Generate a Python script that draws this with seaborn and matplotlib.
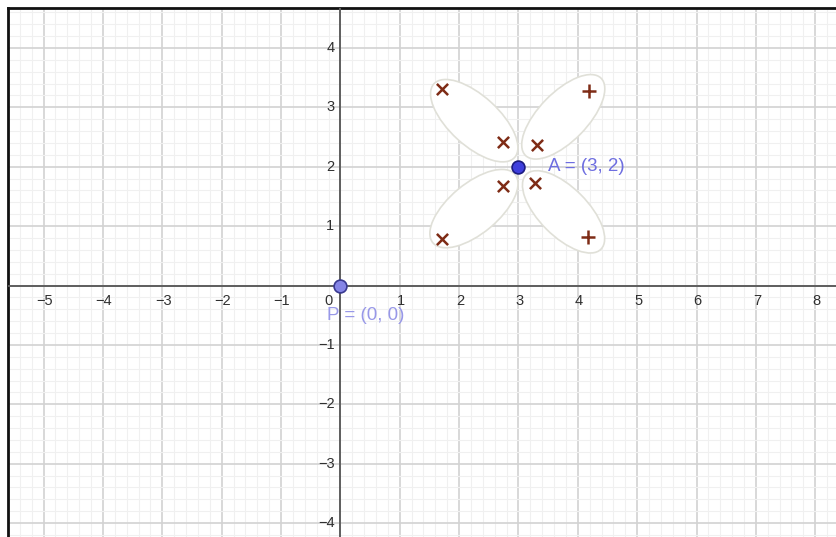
import numpy as np
import pandas as pd
import seaborn as sns
import matplotlib
matplotlib.use("Agg")
from matplotlib import pyplot as plt
from matplotlib.patches import Ellipse
from matplotlib.transforms import offset_copy

# view window (data units)
x_range = (-5.59, 8.35)
y_range = (-4.234, 4.672)
x_ticks = [-5, -4, -3, -2, -1, 1, 2, 3, 4, 5, 6, 7, 8]
y_ticks = [-4, -3, -2, -1, 1, 2, 3, 4]

# named points
pts_name = ["A", "P"]
pts_x = [3, 0]
pts_y = [2, 0]

# petals (ellipses) around A
petal_cx = [2.255, 3.755, 2.250, 3.760]
petal_cy = [2.775, 2.840, 1.295, 1.240]
petal_len = [1.84, 1.82, 1.80, 1.78]
petal_wid = [0.84, 0.82, 0.84, 0.82]
petal_ang = [-42.4, 45.7, 39.7, -45.0]

# cross markers
cross_x = [1.71, 2.74, 3.31, 2.74, 3.28, 1.71]
cross_y = [3.30, 2.42, 2.37, 1.68, 1.72, 0.79]
plus_x = [4.19, 4.18]
plus_y = [3.27, 0.82]

sns.set_style("white")
plt.rcParams['font.family'] = ['Liberation Sans', 'DejaVu Sans']

fig = plt.figure(figsize=(8.36, 5.37), dpi=100)
ax = fig.add_axes([8 / 836, 0, 828 / 836, 529 / 537])
ax.set_xlim(*x_range)
ax.set_ylim(*y_range)

# grid
ax.set_xticks(np.arange(-5, 9, 1))
ax.set_yticks(np.arange(-4, 5, 1))
ax.set_xticks(np.arange(-5.6, 8.4, 0.2), minor=True)
ax.set_yticks(np.arange(-4.2, 4.8, 0.2), minor=True)
ax.grid(which='major', color='#d2d2d2', lw=1.2)
ax.grid(which='minor', color='#f0f0f0', lw=0.8)
ax.set_axisbelow(True)
ax.tick_params(which='both', length=0, labelbottom=False, labelleft=False)

for side in ['right', 'bottom']:
    ax.spines[side].set_visible(False)
for side in ['left', 'top']:
    ax.spines[side].set_color('#111111')
    ax.spines[side].set_linewidth(2)

# axes lines
ax.axhline(0, color='#5e5e5e', lw=1.4, zorder=3)
ax.axvline(0, color='#5e5e5e', lw=1.4, zorder=3)

# tick labels
lab_kw = dict(fontsize=10.5, color='#303030')
below = offset_copy(ax.transData, fig=fig, x=1, y=-15, units='dots')
for t in x_ticks:
    ax.text(t, 0, '\u2212%d' % -t if t < 0 else str(t), transform=below,
            ha='center', va='center', **lab_kw)
left = offset_copy(ax.transData, fig=fig, x=-6, y=0, units='dots')
for t in y_ticks:
    ax.text(0, t, '\u2212%d' % -t if t < 0 else str(t), transform=left,
            ha='right', va='center', **lab_kw)
zero = offset_copy(ax.transData, fig=fig, x=-12, y=-15, units='dots')
ax.text(0, 0, '0', transform=zero, ha='center', va='center', **lab_kw)

# petals
for cx, cy, ln, wd, an in zip(petal_cx, petal_cy, petal_len, petal_wid, petal_ang):
    ax.add_patch(Ellipse((cx, cy), ln, wd, angle=an, facecolor='white',
                         edgecolor='#e0e0d8', lw=1.2, zorder=2))

# crosses
sns.scatterplot(x=cross_x, y=cross_y, marker='x', s=65, color='#7e2c16',
                linewidth=1.8, ax=ax, zorder=4)
sns.scatterplot(x=plus_x, y=plus_y, marker='+', s=95, color='#7e2c16',
                linewidth=1.8, ax=ax, zorder=4)

# points
df = pd.DataFrame({'name': pts_name, 'x': pts_x, 'y': pts_y})
sns.scatterplot(data=df[df.name == 'A'], x='x', y='y', s=85, color='#3f3fdd',
                edgecolor='#1c1c80', linewidth=1.2, ax=ax, zorder=5)
sns.scatterplot(data=df[df.name == 'P'], x='x', y='y', s=85, color='#8585e6',
                edgecolor='#3a3a90', linewidth=1.2, ax=ax, zorder=5)
ax.set_xlabel('')
ax.set_ylabel('')

ax.annotate('A = (3, 2)', (pts_x[0], pts_y[0]), xytext=(30, 0),
            textcoords='offset pixels', ha='left', va='center',
            fontsize=13.5, color='#6e6ee0', zorder=2.5)
ax.annotate('P = (0, 0)', (pts_x[1], pts_y[1]), xytext=(-13, -30),
            textcoords='offset pixels', ha='left', va='center',
            fontsize=13.5, color='#9898e8', zorder=2.5)

fig.savefig('out.png', dpi=100)
